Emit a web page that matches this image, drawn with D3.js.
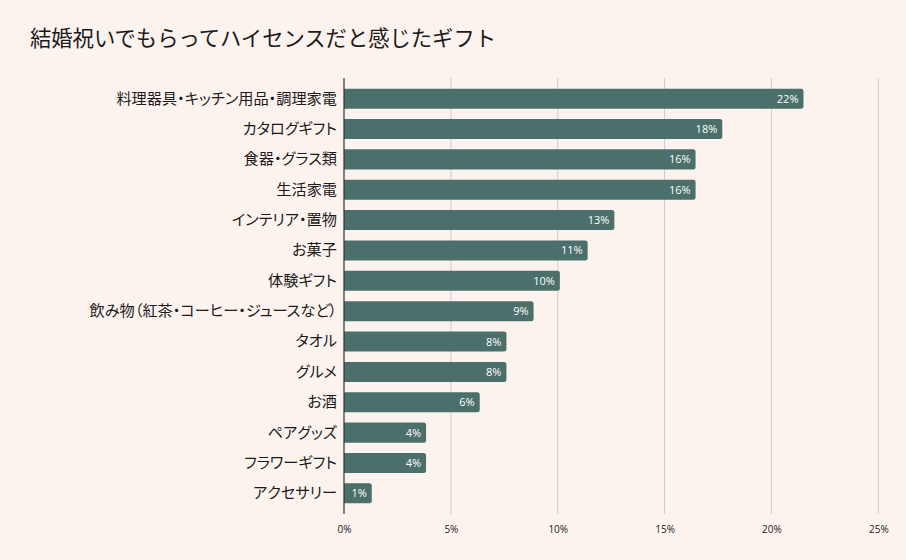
<!DOCTYPE html>
<html>
<head>
<meta charset="utf-8">
<script src="https://cdn.jsdelivr.net/npm/d3@7"></script>
<style>
  html, body { margin: 0; padding: 0; background: #fcf3ee; }
  svg { display: block; }
  .ylab text { font-feature-settings: "palt" 1; }
</style>
</head>
<body>
<svg id="chart" width="906" height="560"></svg>
<script>
const title = "結婚祝いでもらってハイセンスだと感じたギフト";
const categories = [
  "料理器具・キッチン用品・調理家電",
  "カタログギフト",
  "食器・グラス類",
  "生活家電",
  "インテリア・置物",
  "お菓子",
  "体験ギフト",
  "飲み物（紅茶・コーヒー・ジュースなど）",
  "タオル",
  "グルメ",
  "お酒",
  "ペアグッズ",
  "フラワーギフト",
  "アクセサリー"
];
const values = [21.5, 17.7, 16.45, 16.45, 12.65, 11.4, 10.1, 8.87, 7.6, 7.6, 6.35, 3.84, 3.84, 1.3];
const xTicks = [0, 5, 10, 15, 20, 25];

(function () {
const svg = d3.select("#chart");
const W = 906, H = 560;
const mLeft = 344, mRight = 878.3, mTop = 78, mBottom = 514;
const cjk = "'Noto Sans CJK JP', 'Noto Sans', sans-serif";

svg.append("rect").attr("width", W).attr("height", H).attr("fill", "#fcf3ee");

svg.append("text")
  .attr("x", 30).attr("y", 46)
  .attr("font-family", cjk)
  .attr("font-size", 21.3)
  .attr("font-weight", 400)
  .attr("fill", "#1a1a1a")
  .text(title);

const x = d3.scaleLinear().domain([0, 25]).range([mLeft, mRight]);
const y = d3.scaleBand().domain(categories).range([mTop, mBottom]).paddingInner(0.34).paddingOuter(0.35);

// gridlines
svg.append("g").selectAll("line").data(xTicks.filter(d => d > 0)).join("line")
  .attr("x1", d => x(d)).attr("x2", d => x(d))
  .attr("y1", mTop).attr("y2", mBottom)
  .attr("stroke", "#cccccc").attr("stroke-width", 1);

// bars with rounded right corners
const r = 2.5;
function barPath(x0, x1, y0, h) {
  const w = x1 - x0;
  const rr = Math.min(r, w / 2, h / 2);
  return `M${x0},${y0}H${x1 - rr}Q${x1},${y0} ${x1},${y0 + rr}V${y0 + h - rr}Q${x1},${y0 + h} ${x1 - rr},${y0 + h}H${x0}Z`;
}
const data = categories.map((c, i) => ({ c, v: values[i] }));
svg.append("g").selectAll("path").data(data).join("path")
  .attr("d", d => barPath(x(0), x(d.v), y(d.c), y.bandwidth()))
  .attr("fill", "#4b6f6b");

// value labels
svg.append("g").selectAll("text").data(data).join("text")
  .attr("x", d => x(d.v) - 5)
  .attr("y", d => y(d.c) + y.bandwidth() / 2)
  .attr("dy", "0.36em")
  .attr("text-anchor", "end")
  .attr("font-family", "'Open Sans', 'Noto Sans', sans-serif")
  .attr("font-size", 11)
  .attr("fill", "#ffffff")
  .text(d => Math.round(d.v) + "%");

// y axis (category labels)
const yAxis = d3.axisLeft(y).tickSize(0).tickPadding(7);
const gy = svg.append("g").attr("class", "ylab").attr("transform", `translate(${mLeft},0)`).call(yAxis);
gy.select(".domain").remove();
gy.selectAll("text")
  .attr("font-family", cjk)
  .attr("font-size", 15.2)
  .attr("fill", "#1a1a1a");

// vertical axis line
svg.append("line")
  .attr("x1", mLeft).attr("x2", mLeft)
  .attr("y1", mTop).attr("y2", mBottom)
  .attr("stroke", "#333333").attr("stroke-width", 1.2);

// x axis labels
const xAxis = d3.axisBottom(x).tickValues(xTicks).tickSize(0).tickPadding(12).tickFormat(d => d + "%");
const gx = svg.append("g").attr("transform", `translate(0,${mBottom})`).call(xAxis);
gx.select(".domain").remove();
gx.selectAll("text")
  .attr("font-family", "'Open Sans', 'Noto Sans', sans-serif")
  .attr("font-size", 10)
  .attr("fill", "#1a1a1a");
})();
</script>
</body>
</html>
